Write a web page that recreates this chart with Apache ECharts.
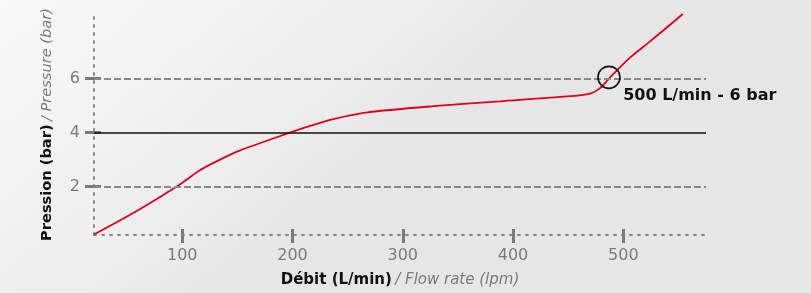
<!DOCTYPE html>
<html>
<head>
<meta charset="utf-8">
<script src="https://cdn.jsdelivr.net/npm/echarts@6/dist/echarts.min.js"></script>
<style>
  html, body { margin: 0; padding: 0; }
  #chart { width: 811px; height: 293px; }
</style>
</head>
<body>
<div id="chart"></div>
<script>
// Courbe débit / pression
const flow = [20, 60, 95, 116, 132, 152, 195, 216, 237, 268, 328, 388, 449, 470, 479, 488, 506, 522, 536, 554]
const pressure = [0.22, 1.12, 2.0, 2.6, 2.95, 3.33, 3.96, 4.25, 4.5, 4.75, 4.98, 5.16, 5.34, 5.45, 5.65, 6.05, 6.78, 7.31, 7.78, 8.4]
const xTicks = [100, 200, 300, 400, 500]
const yTicks = [2, 4, 6]
const refLines = [2, 4, 6]
const point = [487, 6.05]

const chart = echarts.init(document.getElementById('chart'))
const grey = '#7a7a7a'
const font = 'DejaVu Sans'

const xBase = { type: 'value', min: 20, max: 575, position: 'bottom', splitLine: { show: false } }
const yBase = { type: 'value', min: 0.2, max: 8.4, position: 'left', splitLine: { show: false } }

const options = {
  backgroundColor: new echarts.graphic.LinearGradient(0, 0, 0.3, 1, [
    { offset: 0, color: '#f9f9f9' },
    { offset: 0.6, color: '#efefef' },
    { offset: 1, color: '#e6e6e6' }
  ]),
  grid: { left: 94, right: 105, top: 14, bottom: 54 },
  xAxis: [
    Object.assign({}, xBase, {
      name: '{a|Débit (L/min)} {b|/ Flow rate (lpm)}',
      nameLocation: 'middle',
      nameGap: 38,
      nameTextStyle: {
        rich: {
          a: { fontFamily: font, fontWeight: 'bold', fontSize: 15, color: '#111' },
          b: { fontFamily: font, fontStyle: 'italic', fontSize: 15, color: grey }
        }
      },
      axisLine: { lineStyle: { color: '#888', width: 2, type: [2, 6] } },
      axisTick: { customValues: xTicks, length: 8, lineStyle: { color: grey, width: 3 } },
      axisLabel: { customValues: xTicks, color: grey, fontFamily: font, fontSize: 16, margin: 13 }
    }),
    Object.assign({}, xBase, {
      axisLine: { show: false },
      axisTick: { inside: true, customValues: xTicks, length: 6, lineStyle: { color: grey, width: 3 } },
      axisLabel: { show: false }
    })
  ],
  yAxis: [
    Object.assign({}, yBase, {
      name: '{a|Pression (bar)} {b|/ Pressure (bar)}',
      nameLocation: 'middle',
      nameRotate: 90,
      nameGap: 39,
      nameTextStyle: {
        rich: {
          a: { fontFamily: font, fontWeight: 'bold', fontSize: 14.6, color: '#111' },
          b: { fontFamily: font, fontStyle: 'italic', fontSize: 14.6, color: grey }
        }
      },
      axisLine: { lineStyle: { color: '#888', width: 2, type: [2, 6] } },
      axisTick: { customValues: yTicks, length: 9, lineStyle: { color: grey, width: 3 } },
      axisLabel: { customValues: yTicks, color: grey, fontFamily: font, fontSize: 16, margin: 14 }
    }),
    Object.assign({}, yBase, {
      axisLine: { show: false },
      axisTick: { inside: true, customValues: yTicks, length: 7, lineStyle: { color: grey, width: 3 } },
      axisLabel: { show: false }
    })
  ],
  series: [
    {
      type: 'line',
      smooth: 0.25,
      symbol: 'none',
      data: flow.map((x, i) => [x, pressure[i]]),
      lineStyle: { color: '#e2001a', width: 1.8 },
      markLine: {
        silent: true,
        symbol: 'none',
        label: { show: false },
        data: refLines.map(v => ({
          yAxis: v,
          lineStyle: v === 4
            ? { color: '#111', width: 1.6, type: 'solid' }
            : { color: '#888', width: 2, type: [7, 3] }
        }))
      },
      markPoint: {
        silent: true,
        symbol: 'circle',
        symbolSize: 22,
        itemStyle: { color: 'rgba(0,0,0,0)', borderColor: '#111', borderWidth: 1.6 },
        label: {
          show: true,
          formatter: '500 L/min - 6 bar',
          position: [26, 22],
          color: '#111',
          fontFamily: font,
          fontWeight: 'bold',
          fontSize: 16
        },
        data: [{ coord: point }]
      }
    }
  ]
}
chart.setOption(options)
</script>
</body>
</html>
